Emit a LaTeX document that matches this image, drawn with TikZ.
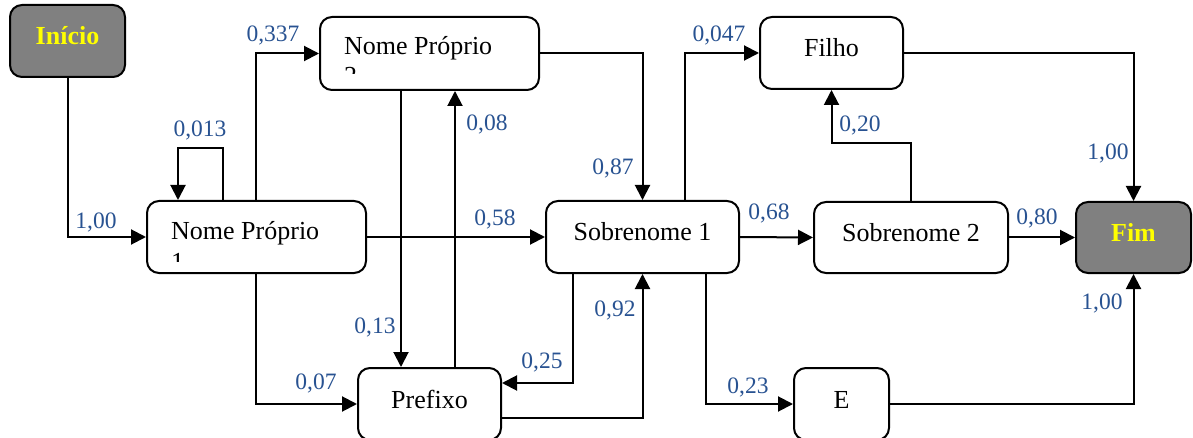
\documentclass[tikz,border=0pt]{standalone}
\usepackage{fontspec}
\setmainfont{Liberation Serif}
\usetikzlibrary{arrows.meta}
\definecolor{labelblue}{RGB}{40,82,145}
\definecolor{termgray}{RGB}{128,128,128}
\definecolor{termyellow}{RGB}{255,255,0}

\begin{document}
\begin{tikzpicture}[x=1pt,y=-1pt,
  box/.style={draw, line width=2pt, rounded corners=12pt, fill=white,
    font=\fontsize{26}{30}\selectfont, text height=14pt, text depth=6pt, inner sep=0pt},
  term/.style={box, fill=termgray, text=termyellow, font=\fontsize{26}{30}\selectfont\bfseries},
  arr/.style={line width=2pt, -{Triangle[length=15pt,width=15pt]}},
  prob/.style={text=labelblue, font=\fontsize{23.5}{26}\selectfont, inner sep=0pt},
  nametext/.style={font=\fontsize{26}{30}\selectfont, inner sep=0pt, anchor=base west}]

\clip (0,0) rectangle (1193,438);

% states
\node[term, minimum width=115pt, minimum height=72pt] (ini) at (67.5,41) {Início};
\node[box, minimum width=219pt, minimum height=72pt] (np1) at (256.5,237) {};
\node[box, minimum width=219pt, minimum height=73pt] (np2) at (429.5,53.5) {};
\node[box, minimum width=193pt, minimum height=72pt] (s1) at (642.5,237) {Sobrenome 1};
\node[box, minimum width=194pt, minimum height=71pt] (s2) at (911,237.5) {Sobrenome 2};
\node[box, minimum width=143pt, minimum height=72pt] (filho) at (831.5,53) {Filho};
\node[term, minimum width=115pt, minimum height=71pt] (fim) at (1133.5,237.5) {Fim};
\node[box, minimum width=143pt, minimum height=72pt] (pre) at (429.5,404) {Prefixo};
\node[box, minimum width=95pt, minimum height=72pt] (e) at (841.5,404) {E};

% two-line names whose second line is cut off by the box
\node[nametext] (np1a) at (171,239.5) {Nome Próprio};
\begin{scope}
  \clip (150,204) rectangle (362,261);
  \node[nametext] (np1b) at (171,270) {1};
\end{scope}
\node[nametext] (np2a) at (344,55) {Nome Próprio};
\begin{scope}
  \clip (323,20) rectangle (535,74);
  \node[nametext] (np2b) at (344,85) {2};
\end{scope}

% transitions
\draw[arr] (ini.south) |- (np1.west);
\draw[arr] (np1.north -| 223,0) -- (223,148) -| (np1.north -| 178,0);
\draw[arr] (np1.north -| 256,0) |- (np2.west);
\draw[arr] (np1.east) -- (s1.west);
\draw[arr] (np1.south -| 256,0) |- (pre.west);
\draw[arr] (np2.south -| 401,0) -- (pre.north -| 401,0);
\draw[arr] (pre.north -| 455,0) -- (np2.south -| 455,0);
\draw[arr] (np2.east) -| (s1.north);
\draw[arr] (s1.south -| 573,0) |- (pre.east |- 0,383);
\draw[arr] (pre.east |- 0,418) -| (s1.south);
\draw[arr] (s1.north -| 685,0) |- (filho.west);
\draw[arr] (s1.east) -- (s2.west);
\draw[arr] (s1.south -| 706,0) |- (e.west);
\draw[arr] (s2.north) -- (s2.north |- 0,143) -| (filho.south);
\draw[arr] (filho.east) -| (fim.north);
\draw[arr] (s2.east) -- (fim.west);
\draw[arr] (e.east) -| (fim.south);

% transition probabilities
\node[prob] (p1) at (96,222) {1,00};
\node[prob] (p2) at (200,130) {0,013};
\node[prob] (p3) at (273,35) {0,337};
\node[prob] (p4) at (495,219) {0,58};
\node[prob] (p5) at (316,383) {0,07};
\node[prob] (p6) at (375,327) {0,13};
\node[prob] (p7) at (487,124) {0,08};
\node[prob] (p8) at (613,168) {0,87};
\node[prob] (p9) at (542,362) {0,25};
\node[prob] (p10) at (615,310) {0,92};
\node[prob] (p11) at (719,35) {0,047};
\node[prob] (p12) at (860,125) {0,20};
\node[prob] (p13) at (1108,153) {1,00};
\node[prob] (p14) at (769,213) {0,68};
\node[prob] (p15) at (1037,218) {0,80};
\node[prob] (p16) at (1102,303) {1,00};
\node[prob] (p17) at (748,387) {0,23};
\end{tikzpicture}
\end{document}
